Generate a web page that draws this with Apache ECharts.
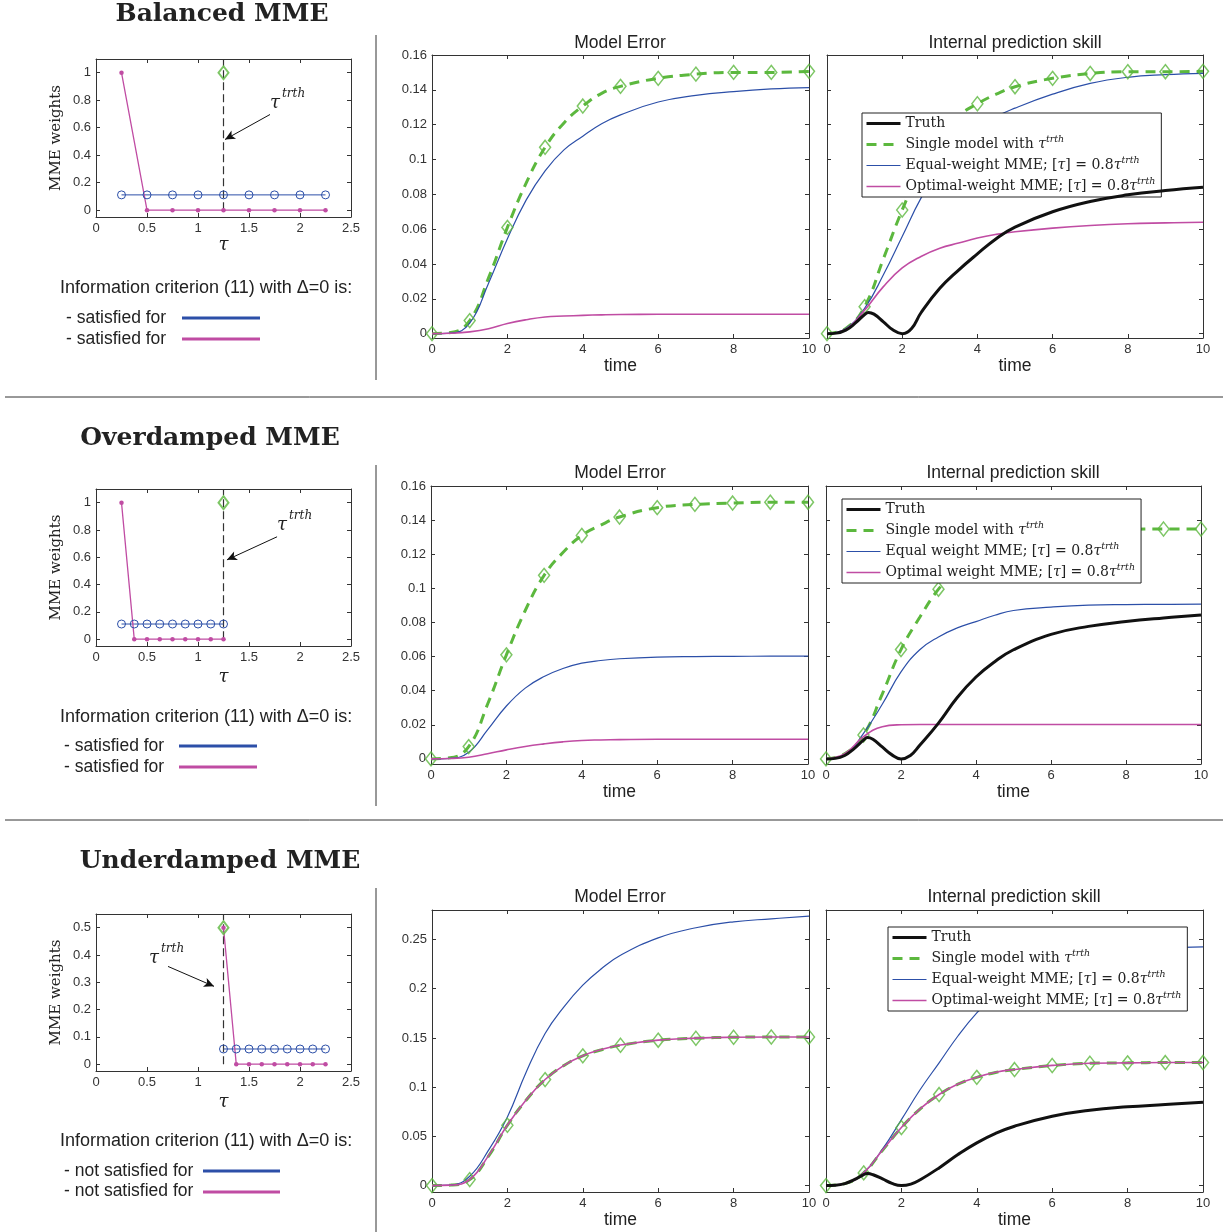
<!DOCTYPE html>
<html>
<head>
<meta charset="utf-8">
<script src="https://cdn.jsdelivr.net/npm/echarts@6/dist/echarts.min.js"></script>
<style>
  html, body { margin: 0; padding: 0; background: #fff; }
  #chart { width: 1228px; height: 1232px; }
</style>
</head>
<body>
<div id="chart"></div>
<script>
var timeT = [0, 0.5, 1, 1.5, 2, 2.5, 3, 3.5, 4, 4.5, 5, 6, 7, 8, 9, 10];
var timeTruth = [0, 0.25, 0.5, 0.75, 1, 1.1, 1.25, 1.5, 1.75, 2, 2.25, 2.5, 3, 3.5, 4, 4.5, 5, 6, 7, 8, 9, 10];

// ---- Balanced MME ----
var balErrSingle = [0, 0.0006, 0.0075, 0.032, 0.061, 0.0866, 0.107, 0.121, 0.1307, 0.138, 0.142, 0.1466, 0.149, 0.150, 0.150, 0.1506];
var balErrEqual = [0, 0.0003, 0.006, 0.029, 0.0545, 0.0768, 0.0935, 0.1055, 0.1134, 0.1205, 0.1256, 0.133, 0.1368, 0.139, 0.1405, 0.1413];
var balErrOptimal = [0, 0.0002, 0.001, 0.0028, 0.0058, 0.008, 0.0096, 0.0101, 0.0105, 0.0108, 0.011, 0.0111, 0.0111, 0.0111, 0.0111, 0.0111];
var balSkillTruth = [0, 0.0003, 0.002, 0.006, 0.011, 0.0122, 0.0112, 0.0068, 0.0022, 0, 0.003, 0.012, 0.026, 0.0365, 0.0458, 0.0545, 0.0612, 0.070, 0.0759, 0.0797, 0.0822, 0.0841];
var balSkillSingle = [0, 0.003, 0.0155, 0.043, 0.071, 0.095, 0.113, 0.125, 0.132, 0.1375, 0.1418, 0.1466, 0.1494, 0.1504, 0.1504, 0.1506];
var balSkillEqual = [0, 0.003, 0.0145, 0.0338, 0.0558, 0.0778, 0.095, 0.108, 0.117, 0.1245, 0.1295, 0.1375, 0.1437, 0.1472, 0.1487, 0.1495];
var balSkillOptimal = [0, 0.0025, 0.0135, 0.027, 0.0377, 0.0443, 0.049, 0.052, 0.0549, 0.057, 0.0585, 0.0606, 0.0621, 0.0631, 0.0636, 0.064];
var balTau = [0.25, 0.5, 0.75, 1, 1.25, 1.5, 1.75, 2, 2.25];
var balEqualW = [0.111, 0.111, 0.111, 0.111, 0.111, 0.111, 0.111, 0.111, 0.111];
var balOptimalW = [1, 0, 0, 0, 0, 0, 0, 0, 0];

// ---- Overdamped MME ----
var overErrSingle = [0, 0.0006, 0.0072, 0.032, 0.061, 0.087, 0.1076, 0.121, 0.131, 0.137, 0.1418, 0.1473, 0.1492, 0.150, 0.1505, 0.1505];
var overErrEqual = [0, 0.0003, 0.0039, 0.017, 0.031, 0.0415, 0.0483, 0.053, 0.0561, 0.0577, 0.0587, 0.0597, 0.060, 0.0601, 0.0602, 0.0602];
var overErrOptimal = [0, 0.0002, 0.001, 0.003, 0.0053, 0.0073, 0.0088, 0.010, 0.0108, 0.0111, 0.0113, 0.0115, 0.0115, 0.0115, 0.0115, 0.0115];
var overSkillTruth = [0, 0.0003, 0.002, 0.006, 0.011, 0.0125, 0.0115, 0.007, 0.0025, 0, 0.002, 0.008, 0.021, 0.036, 0.048, 0.057, 0.064, 0.073, 0.0777, 0.0805, 0.0826, 0.0844];
var overSkillSingle = [0, 0.003, 0.014, 0.038, 0.0641, 0.083, 0.0995, 0.111, 0.119, 0.1245, 0.1285, 0.132, 0.134, 0.1345, 0.1348, 0.1348];
var overSkillEqual = [0, 0.002, 0.015, 0.032, 0.051, 0.064, 0.0715, 0.0768, 0.0805, 0.0842, 0.087, 0.089, 0.0902, 0.0905, 0.0906, 0.0907];
var overSkillOptimal = [0, 0.003, 0.013, 0.0188, 0.020, 0.0202, 0.0202, 0.0202, 0.0202, 0.0202, 0.0202, 0.0202, 0.0202, 0.0202, 0.0202, 0.0202];
var overTau = [0.25, 0.375, 0.5, 0.625, 0.75, 0.875, 1, 1.125, 1.25];
var overEqualW = [0.111, 0.111, 0.111, 0.111, 0.111, 0.111, 0.111, 0.111, 0.111];
var overOptimalW = [1, 0, 0, 0, 0, 0, 0, 0, 0];

// ---- Underdamped MME ----
var underErrSingle = [0, 0.0005, 0.0061, 0.030, 0.0613, 0.087, 0.1077, 0.122, 0.1318, 0.138, 0.1426, 0.1477, 0.1497, 0.1507, 0.151, 0.151];
var underErrEqual = [0, 0.0005, 0.0095, 0.036, 0.0698, 0.1155, 0.1545, 0.1816, 0.2036, 0.2205, 0.234, 0.2517, 0.262, 0.268, 0.271, 0.2737];
var underErrOptimal = [0, 0.0005, 0.0062, 0.0305, 0.0615, 0.0872, 0.1078, 0.1222, 0.132, 0.1382, 0.1428, 0.1478, 0.1498, 0.1507, 0.151, 0.151];
var underSkillTruth = [0, 0.0003, 0.002, 0.006, 0.0112, 0.0122, 0.011, 0.0068, 0.0022, 0, 0.0015, 0.006, 0.018, 0.0315, 0.0434, 0.053, 0.0603, 0.0705, 0.0766, 0.080, 0.0823, 0.0847];
var underSkillSingle = [0, 0.002, 0.0129, 0.036, 0.0589, 0.078, 0.0925, 0.103, 0.110, 0.115, 0.1179, 0.122, 0.1243, 0.1247, 0.125, 0.125];
var underSkillEqual = [0, 0.002, 0.013, 0.037, 0.067, 0.0976, 0.1247, 0.152, 0.1755, 0.194, 0.208, 0.226, 0.235, 0.239, 0.2415, 0.2425];
var underSkillOptimal = [0, 0.002, 0.013, 0.0362, 0.059, 0.0782, 0.0926, 0.1032, 0.1101, 0.1151, 0.118, 0.1221, 0.1243, 0.1247, 0.125, 0.125];
var underTau = [1.25, 1.375, 1.5, 1.625, 1.75, 1.875, 2, 2.125, 2.25];
var underEqualW = [0.0556, 0.0556, 0.0556, 0.0556, 0.0556, 0.0556, 0.0556, 0.0556, 0.0556];
var underOptimalW = [0.5, 0, 0, 0, 0, 0, 0, 0, 0];

// true tau and its weight in each row
var tauTruth = 1.25;
var truthWeight = [1, 1, 0.5];

// tick labels
var tauTicks = [0, 0.5, 1, 1.5, 2, 2.5];
var weightTicks = [0, 0.2, 0.4, 0.6, 0.8, 1];
var weightTicksUnder = [0, 0.1, 0.2, 0.3, 0.4, 0.5];
var timeTicks = [0, 2, 4, 6, 8, 10];
var errTicks = [0, 0.02, 0.04, 0.06, 0.08, 0.1, 0.12, 0.14, 0.16];
var errTicksUnder = [0, 0.05, 0.1, 0.15, 0.2, 0.25];

var GREEN = "#5cb83e";
var BLUE = "#2c4fa8";
var PINK = "#c04ca3";
var BLACK = "#111";
var SANS = "'Liberation Sans', Arial, sans-serif";
var SERIF = "'DejaVu Serif', serif";

function zip(xs, ys) {
  return xs.map(function (x, i) { return [x, ys[i]]; });
}

var chart = echarts.init(document.getElementById("chart"));

var grids = [];
var xAxes = [];
var yAxes = [];
var series = [];

// one boxed axes, matlab style: labels bottom/left, ticks on all four sides
function addAxes(box, xr, xticks, yr, yticks, opts) {
  var gi = grids.length;
  grids.push({ left: box[0], top: box[1], width: box[2], height: box[3], containLabel: false });
  var tick = { inside: true, length: 4, lineStyle: { color: "#333" } };
  var line = { onZero: false, lineStyle: { color: "#333", width: 1 } };
  var lab = { fontFamily: SANS, fontSize: 13, color: "#333", margin: 5 };
  xAxes.push({
    type: "value", gridIndex: gi, position: "bottom", min: xr[0], max: xr[1],
    axisLine: line, splitLine: { show: false },
    axisTick: Object.assign({ customValues: xticks }, tick),
    axisLabel: Object.assign({ customValues: xticks }, lab),
    name: opts.xName || "", nameLocation: "middle", nameGap: opts.xGap || 17,
    nameTextStyle: opts.xNameStyle || { fontFamily: SANS, fontSize: 17.5, color: "#222" },
  });
  xAxes.push({
    type: "value", gridIndex: gi, position: "top", min: xr[0], max: xr[1],
    axisLine: line, splitLine: { show: false },
    axisTick: Object.assign({ customValues: xticks }, tick),
    axisLabel: { show: false },
  });
  yAxes.push({
    type: "value", gridIndex: gi, position: "left", min: yr[0], max: yr[1],
    axisLine: line, splitLine: { show: false },
    axisTick: Object.assign({ customValues: yticks }, tick),
    axisLabel: Object.assign({ customValues: yticks, show: opts.yLabels !== false }, lab),
    name: opts.yName || "", nameLocation: "middle", nameGap: opts.yGap || 32,
    nameTextStyle: { fontFamily: SERIF, fontSize: 15, color: "#222" },
  });
  yAxes.push({
    type: "value", gridIndex: gi, position: "right", min: yr[0], max: yr[1],
    axisLine: line, splitLine: { show: false },
    axisTick: Object.assign({ customValues: yticks }, tick),
    axisLabel: { show: false },
  });
  return gi;
}

function curve(gi, name, ts, vals, color, width, dashed, z) {
  series.push({
    type: "line", name: name, xAxisIndex: 2 * gi, yAxisIndex: 2 * gi,
    data: zip(ts, vals), smooth: 0.45, symbol: "none",
    lineStyle: { color: color, width: width, type: dashed ? [10, 7] : "solid" },
    itemStyle: { color: color }, z: z, silent: true,
  });
}

function diamonds(gi, ts, vals, size) {
  var pts = zip(ts, vals).filter(function (p) { return Number.isInteger(p[0]); });
  series.push({
    type: "scatter", xAxisIndex: 2 * gi, yAxisIndex: 2 * gi, data: pts,
    symbol: "diamond", symbolSize: size || [11, 14], z: 3, silent: true,
    itemStyle: { color: "rgba(0,0,0,0)", borderColor: GREEN, borderWidth: 1.5 },
  });
}

var single = "Single model with τ^trth";
var equalH = "Equal-weight MME; [τ] = 0.8τ^trth";
var optimalH = "Optimal-weight MME; [τ] = 0.8τ^trth";
var equalS = "Equal weight MME; [τ] = 0.8τ^trth";
var optimalS = "Optimal weight MME; [τ] = 0.8τ^trth";

function errorPanel(box, yr, yticks, s, e, o) {
  var gi = addAxes(box, [0, 10], timeTicks, yr, yticks, { xName: "time" });
  curve(gi, single, timeT, s, GREEN, 3, true, 2);
  diamonds(gi, timeT, s);
  curve(gi, equalH, timeT, e, BLUE, 1.2, false, 2);
  curve(gi, optimalH, timeT, o, PINK, 1.6, false, 4);
}

function skillPanel(box, yr, yticks, tr, s, e, o, names) {
  var gi = addAxes(box, [0, 10], timeTicks, yr, yticks, { xName: "time", yLabels: false });
  curve(gi, single, timeT, s, GREEN, 3, true, 2);
  diamonds(gi, timeT, s);
  curve(gi, names[0], timeT, e, BLUE, 1.2, false, 2);
  curve(gi, names[1], timeT, o, PINK, 1.6, false, 4);
  curve(gi, "Truth", timeTruth, tr, BLACK, 3, false, 4);
}

function weightPanel(box, yr, yticks, tau, eq, opt, trueW, xGap, arrow) {
  var gi = addAxes(box, [0, 2.5], tauTicks, yr, yticks, {
    xName: "τ", xGap: xGap,
    xNameStyle: { fontFamily: SERIF, fontStyle: "italic", fontSize: 18, color: "#222" },
    yName: "MME weights",
  });
  series.push({
    type: "line", xAxisIndex: 2 * gi, yAxisIndex: 2 * gi,
    data: [[tauTruth, 0], [tauTruth, yr[1]]], symbol: "none", silent: true,
    lineStyle: { color: "#333", width: 1.2, type: [8, 4] }, z: 2,
    markLine: {
      silent: true, symbol: ["none", "arrow"], symbolSize: [7, 10],
      label: { show: false }, lineStyle: { color: "#111", type: "solid", width: 1 },
      data: [[{ coord: arrow[0] }, { coord: arrow[1] }]],
    },
  });
  series.push({
    type: "line", xAxisIndex: 2 * gi, yAxisIndex: 2 * gi, data: zip(tau, eq),
    symbol: "circle", symbolSize: 8, silent: true, z: 3,
    lineStyle: { color: BLUE, width: 1 },
    itemStyle: { color: "rgba(0,0,0,0)", borderColor: BLUE, borderWidth: 1 },
  });
  series.push({
    type: "line", xAxisIndex: 2 * gi, yAxisIndex: 2 * gi, data: zip(tau, opt),
    symbol: "circle", symbolSize: 4.5, silent: true, z: 3,
    lineStyle: { color: PINK, width: 1.3 }, itemStyle: { color: PINK },
  });
  series.push({
    type: "scatter", xAxisIndex: 2 * gi, yAxisIndex: 2 * gi, data: [[tauTruth, trueW]],
    symbol: "diamond", symbolSize: [10, 13], silent: true, z: 4,
    itemStyle: { color: "rgba(0,0,0,0)", borderColor: GREEN, borderWidth: 2 },
  });
}

// row 1: balanced
weightPanel([96, 59, 255, 158], [-0.05, 1.1], weightTicks, balTau, balEqualW, balOptimalW, truthWeight[0], 8,
  [[1.706, 0.696], [1.265, 0.514]]);
errorPanel([432, 55, 377, 283], [-0.0025, 0.16], errTicks, balErrSingle, balErrEqual, balErrOptimal);
skillPanel([827, 55, 376, 283], [-0.0025, 0.16], errTicks, balSkillTruth, balSkillSingle, balSkillEqual, balSkillOptimal, [equalH, optimalH]);

// row 2: overdamped
weightPanel([96, 489, 255, 157], [-0.05, 1.1], weightTicks, overTau, overEqualW, overOptimalW, truthWeight[1], 22,
  [[1.775, 0.75], [1.284, 0.581]]);
errorPanel([431, 486, 377, 278], [-0.003, 0.16], errTicks, overErrSingle, overErrEqual, overErrOptimal);
skillPanel([826, 486, 375, 278], [-0.003, 0.16], errTicks, overSkillTruth, overSkillSingle, overSkillEqual, overSkillOptimal, [equalS, optimalS]);

// row 3: underdamped
weightPanel([96, 914, 255, 157], [-0.025, 0.55], weightTicksUnder, underTau, underEqualW, underOptimalW, truthWeight[2], 22,
  [[0.706, 0.358], [1.157, 0.285]]);
errorPanel([432, 910, 377, 282], [-0.0065, 0.28], errTicksUnder, underErrSingle, underErrEqual, underErrOptimal);
skillPanel([826, 910, 377, 282], [-0.0065, 0.28], errTicksUnder, underSkillTruth, underSkillSingle, underSkillEqual, underSkillOptimal, [equalH, optimalH]);

function legendAt(left, top, names) {
  return {
    data: [
      { name: "Truth", lineStyle: { color: BLACK, width: 3 } },
      { name: single, lineStyle: { color: GREEN, width: 3, type: [10, 7] } },
      { name: names[0], lineStyle: { color: BLUE, width: 1.2 } },
      { name: names[1], lineStyle: { color: PINK, width: 1.6 } },
    ],
    orient: "vertical", left: left, top: top,
    backgroundColor: "#fff", borderColor: "#222", borderWidth: 1,
    padding: [1, 6, 1, 3], itemGap: 2, itemWidth: 34, itemHeight: 12,
    selectedMode: false,
    // hide the dot that line series put in the middle of the legend line
    itemStyle: { color: "rgba(0,0,0,0)", borderColor: "rgba(0,0,0,0)", borderWidth: 0 },
    formatter: function (name) {
      return name.replace("τ^trth", "{it|τ}{sup|trth}").replace("[τ]", "[{it|τ}]");
    },
    textStyle: {
      fontFamily: SERIF, fontSize: 14, color: "#222", lineHeight: 19,
      rich: {
        it: { fontFamily: SERIF, fontStyle: "italic", fontSize: 14, lineHeight: 19 },
        sup: { fontFamily: SERIF, fontStyle: "italic", fontSize: 9.5, verticalAlign: "top", lineHeight: 19 },
      },
    },
  };
}

function txt(x, y, s, font, align) {
  return { type: "text", x: x, y: y, silent: true,
    style: { text: s, font: font, fill: "#222", textAlign: align || "center", textVerticalAlign: "middle" } };
}
function seg(x1, y1, x2, y2, color, w) {
  return { type: "line", silent: true, shape: { x1: x1, y1: y1, x2: x2, y2: y2 },
    style: { stroke: color, lineWidth: w } };
}
function tauLabel(x, y) {
  return [txt(x, y, "τ", "italic 18px " + SERIF, "left"), txt(x + 12, y - 9, "trth", "italic 12px " + SERIF, "left")];
}

var F = "17.5px " + SANS;
var FI = "18px " + SANS;
var graphics = [
  txt(222, 14, "Balanced MME", "bold 25px " + SERIF),
  txt(210, 438, "Overdamped MME", "bold 25px " + SERIF),
  txt(220, 861, "Underdamped MME", "bold 25px " + SERIF),
  txt(620, 43, "Model Error", F),
  txt(620, 473, "Model Error", F),
  txt(620, 897, "Model Error", F),
  txt(1015, 43, "Internal prediction skill", F),
  txt(1013, 473, "Internal prediction skill", F),
  txt(1014, 897, "Internal prediction skill", F),
  txt(60, 288, "Information criterion (11) with Δ=0 is:", FI, "left"),
  txt(66, 318, "- satisfied for", F, "left"),
  txt(66, 339, "- satisfied for", F, "left"),
  seg(182, 318, 260, 318, BLUE, 3),
  seg(182, 339, 260, 339, PINK, 3),
  txt(60, 717, "Information criterion (11) with Δ=0 is:", FI, "left"),
  txt(64, 746, "- satisfied for", F, "left"),
  txt(64, 767, "- satisfied for", F, "left"),
  seg(179, 746, 257, 746, BLUE, 3),
  seg(179, 767, 257, 767, PINK, 3),
  txt(60, 1141, "Information criterion (11) with Δ=0 is:", FI, "left"),
  txt(64, 1171, "- not satisfied for", F, "left"),
  txt(64, 1191, "- not satisfied for", F, "left"),
  seg(203, 1171, 280, 1171, BLUE, 3),
  seg(203, 1192, 280, 1192, PINK, 3),
  seg(376, 35, 376, 380, "#333", 1),
  seg(376, 465, 376, 806, "#333", 1),
  seg(376, 888, 376, 1232, "#333", 1),
  seg(5, 397, 1223, 397, "#333", 1),
  seg(5, 820, 1223, 820, "#333", 1),
].concat(tauLabel(270, 103), tauLabel(277, 525), tauLabel(149, 958));

chart.setOption({
  animation: false,
  backgroundColor: "#fff",
  grid: grids,
  xAxis: xAxes,
  yAxis: yAxes,
  legend: [
    legendAt(862, 113, [equalH, optimalH]),
    legendAt(842, 499, [equalS, optimalS]),
    legendAt(888, 927, [equalH, optimalH]),
  ],
  graphic: graphics,
  series: series,
});
</script>
</body>
</html>
